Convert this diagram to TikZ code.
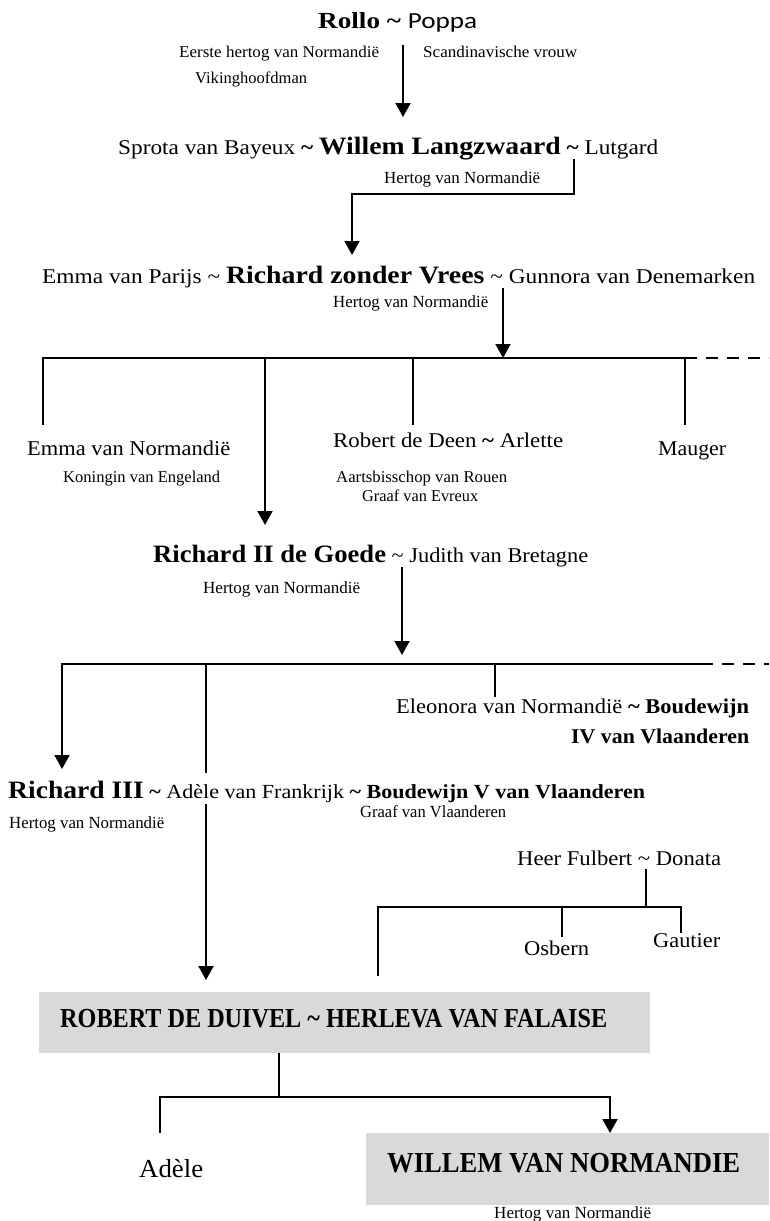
\documentclass[tikz,border=0pt]{standalone}
\usepackage{fontspec}
\usepackage{graphicx}
\setmainfont{Liberation Serif}
\newfontfamily\calib{Carlito}
\usetikzlibrary{arrows.meta}
\definecolor{boxgray}{HTML}{D9D9D9}
\newcommand{\fitw}[2]{\resizebox{#1pt}{\height}{#2}}
\newcommand{\fs}[1]{\fontsize{#1}{#1}\selectfont}
\tikzset{
  txt/.style={inner sep=0pt, anchor=base west},
  ln/.style={line width=2pt},
  arr/.style={line width=2pt, -{Triangle[width=15pt,length=14pt]}},
  dsh/.style={line width=2pt, dash pattern=on 12pt off 9pt},
  graybox/.style={fill=boxgray, inner sep=0pt, anchor=north west}
}
\begin{document}
\begin{tikzpicture}[x=1pt,y=-1pt]
\useasboundingbox (0,0) rectangle (769,1221);
% ---------- texts ----------
\node[txt] (rollo) at (318,28) {\fitw{159}{\fs{23}\textbf{Rollo \textasciitilde} {\calib\fs{23}Poppa}}};
\node[txt] (rollot) at (179,57) {\fitw{200}{\fs{16.5}Eerste hertog van Normandië}};
\node[txt] (poppat) at (423,57) {\fitw{154}{\fs{16.5}Scandinavische vrouw}};
\node[txt] (viking) at (195,83) {\fitw{112}{\fs{16.5}Vikinghoofdman}};
\node[txt] (willem) at (118,154) {\fitw{540}{\fs{21}Sprota van Bayeux \textbf{\textasciitilde{} {\fs{25}Willem Langzwaard} \textasciitilde{}} Lutgard}};
\node[txt] (willemt) at (384,183) {\fitw{156}{\fs{17}Hertog van Normandië}};
\node[txt] (richard) at (42,283) {\fitw{713}{\fs{21}Emma van Parijs \textasciitilde{} {\fs{25}\bfseries Richard zonder Vrees} \textasciitilde{} Gunnora van Denemarken}};
\node[txt] (richardt) at (333,307) {\fitw{155}{\fs{17}Hertog van Normandië}};
\node[txt] (emman) at (27,455) {\fitw{203}{\fs{21}Emma van Normandië}};
\node[txt] (emmant) at (63,482) {\fitw{157}{\fs{16.5}Koningin van Engeland}};
\node[txt] (robdeen) at (333,447) {\fitw{230}{\fs{21}Robert de Deen \textbf{\textasciitilde} Arlette}};
\node[txt] (robdeent) at (336,482) {\fitw{171}{\fs{16.5}Aartsbisschop van Rouen}};
\node[txt] (robdeent2) at (362,501) {\fitw{116}{\fs{16.5}Graaf van Evreux}};
\node[txt] (mauger) at (658,455) {\fitw{68}{\fs{21}Mauger}};
\node[txt] (richard2) at (153,562) {\fitw{435}{\fs{21}{\fs{25}\bfseries Richard II de Goede} \textasciitilde{} Judith van Bretagne}};
\node[txt] (richard2t) at (203,593) {\fitw{157}{\fs{17}Hertog van Normandië}};
\node[txt] (eleo) at (396,713) {\fitw{353}{\fs{21}Eleonora van Normandië \textbf{\textasciitilde{} Boudewijn}}};
\node[txt] (eleo2) at (571,743) {\fitw{178}{\fs{21}\bfseries IV van Vlaanderen}};
\node[txt] (richard3) at (8,798) {\fitw{637}{\fs{20}{\fs{25}\bfseries Richard III} \textbf{\textasciitilde} Adèle van Frankrijk \textbf{\textasciitilde{} Boudewijn V van Vlaanderen}}};
\node[txt] (boudt) at (360,817) {\fitw{146}{\fs{17}Graaf van Vlaanderen}};
\node[txt] (richard3t) at (9,828) {\fitw{155}{\fs{17}Hertog van Normandië}};
\node[txt] (fulbert) at (517,865) {\fitw{204}{\fs{21}Heer Fulbert \textasciitilde{} Donata}};
\node[txt] (osbern) at (524,955) {\fitw{65}{\fs{21}Osbern}};
\node[txt] (gautier) at (653,947) {\fitw{67}{\fs{21}Gautier}};
\node[graybox, minimum width=611pt, minimum height=61pt] (rdbox) at (39,992) {};
\node[txt] (rdtext) at (60,1027) {\fitw{547}{\fs{27.5}\bfseries ROBERT DE DUIVEL \textasciitilde{} HERLEVA VAN FALAISE}};
\node[graybox, minimum width=403pt, minimum height=72pt] (wbox) at (366,1133) {};
\node[txt] (wtext) at (387,1172) {\fitw{353}{\fs{29}\bfseries WILLEM VAN NORMANDIE}};
\node[txt] (adele) at (139,1177) {\fitw{64}{\fs{26}Adèle}};
\node[txt] (wtextt) at (494,1218) {\fitw{157}{\fs{17}Hertog van Normandië}};
% ---------- coordinates ----------
\coordinate (p1a) at (403,45);   \coordinate (p1b) at (403,117);
\coordinate (p2a) at (574,159);  \coordinate (p2b) at (574,194);
\coordinate (p2c) at (352,194);  \coordinate (p2d) at (352,255);
\coordinate (p3a) at (503,288);  \coordinate (p3b) at (503,358);
\coordinate (b1l) at (43,358);   \coordinate (b1r) at (685,358);
\coordinate (b1e) at (769,358);
\coordinate (d1) at (43,425);    \coordinate (d3t) at (413,358);
\coordinate (d3) at (413,425);   \coordinate (d4) at (685,425);
\coordinate (d2t) at (265,358);  \coordinate (d2) at (265,525);
\coordinate (p4a) at (402,567);  \coordinate (p4b) at (402,655);
\coordinate (b2l) at (62,664);   \coordinate (b2r) at (701,664);
\coordinate (b2e) at (769,664);  \coordinate (e1) at (62,769);
\coordinate (e2t) at (206,664);  \coordinate (e2a) at (206,773);
\coordinate (e2b) at (206,804);  \coordinate (e2) at (206,980);
\coordinate (e3t) at (495,664);  \coordinate (e3) at (495,697);
\coordinate (f1) at (646,869);   \coordinate (f2) at (646,907);
\coordinate (b3l) at (378,907);  \coordinate (b3r) at (681,907);
\coordinate (g1) at (378,976);   \coordinate (g2t) at (562,907);
\coordinate (g2) at (562,937);   \coordinate (g3) at (681,933);
\coordinate (h1) at (279,1053);  \coordinate (h2) at (279,1097);
\coordinate (b4l) at (160,1097); \coordinate (b4r) at (610,1097);
\coordinate (k1) at (160,1133);  \coordinate (k2) at (610,1133);
% ---------- connectors ----------
\draw[arr] (p1a) -- (p1b);
\draw[arr] (p2a) -- (p2b) -- (p2c) -- (p2d);
\draw[arr] (p3a) -- (p3b);
\draw[ln] (d1) -- (b1l) -- (b1r) -- (d4);
\draw[dsh] (b1r) -- (b1e);
\draw[ln] (d3t) -- (d3);
\draw[arr] (d2t) -- (d2);
\draw[arr] (p4a) -- (p4b);
\draw[arr] (b2r) -- (b2l) -- (e1);
\draw[dsh] (b2r) -- (b2e);
\draw[ln] (e2t) -- (e2a);
\draw[arr] (e2b) -- (e2);
\draw[ln] (e3t) -- (e3);
\draw[ln] (f1) -- (f2);
\draw[ln] (g1) -- (b3l) -- (b3r) -- (g3);
\draw[ln] (g2t) -- (g2);
\draw[ln] (h1) -- (h2);
\draw[arr] (k1) -- (b4l) -- (b4r) -- (k2);
\end{tikzpicture}
\end{document}
